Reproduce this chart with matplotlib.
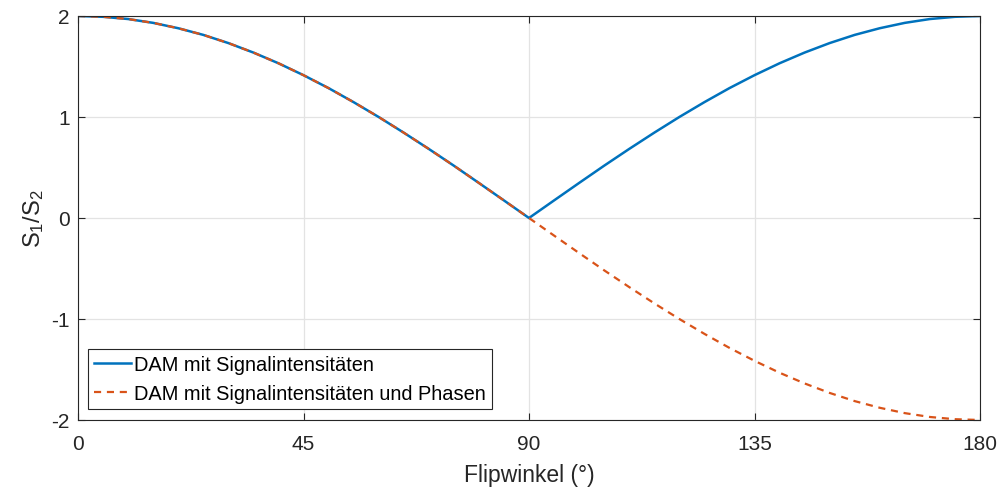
import matplotlib
matplotlib.use("Agg")
import matplotlib.pyplot as plt

plt.rcParams['font.family'] = ['Liberation Sans', 'DejaVu Sans']
plt.rcParams['mathtext.fontset'] = 'custom'
plt.rcParams['mathtext.rm'] = 'Liberation Sans'
plt.rcParams['mathtext.default'] = 'regular'

# Flip angle samples (degrees) and the ratio S1/S2 read at each
flip_angle = [0, 5, 10, 15, 20, 25, 30, 35, 40, 45, 50, 55, 60, 65, 70, 75, 80, 85, 90,
              95, 100, 105, 110, 115, 120, 125, 130, 135, 140, 145, 150, 155, 160, 165,
              170, 175, 180]
ratio_phase = [2.000, 1.992, 1.970, 1.932, 1.879, 1.813, 1.732, 1.638, 1.532, 1.414,
               1.286, 1.147, 1.000, 0.845, 0.684, 0.518, 0.347, 0.174, 0.000,
               -0.174, -0.347, -0.518, -0.684, -0.845, -1.000, -1.147, -1.286, -1.414,
               -1.532, -1.638, -1.732, -1.813, -1.879, -1.932, -1.970, -1.992, -2.000]
ratio_magnitude = [2.000, 1.992, 1.970, 1.932, 1.879, 1.813, 1.732, 1.638, 1.532, 1.414,
                   1.286, 1.147, 1.000, 0.845, 0.684, 0.518, 0.347, 0.174, 0.000,
                   0.174, 0.347, 0.518, 0.684, 0.845, 1.000, 1.147, 1.286, 1.414,
                   1.532, 1.638, 1.732, 1.813, 1.879, 1.932, 1.970, 1.992, 2.000]

x_ticks = [0, 45, 90, 135, 180]
y_ticks = [-2, -1, 0, 1, 2]
labels = ["DAM mit Signalintensitäten", "DAM mit Signalintensitäten und Phasen"]

fig = plt.figure(figsize=(10.03, 4.89), dpi=100)
ax = fig.add_axes([78 / 1003, 1 - 421 / 489, (980 - 78) / 1003, (421 - 17) / 489])

ax.plot(flip_angle, ratio_magnitude, color='#0072BD', lw=1.8, label=labels[0])
ax.plot(flip_angle, ratio_phase, color='#D95319', lw=1.6, ls=(0, (3.2, 2.6)), label=labels[1])

ax.set_xlim(0, 180)
ax.set_ylim(-2, 2)
ax.set_xticks(x_ticks)
ax.set_yticks(y_ticks)
ax.set_yticklabels([str(v) for v in y_ticks])
ax.grid(True, color='#e3e3e3', lw=0.9)
ax.set_axisbelow(True)
ax.tick_params(direction='in', length=5, width=0.8, colors='#262626', labelsize=15,
               top=True, right=True)
ax.tick_params(axis='x', pad=10)
ax.tick_params(axis='y', pad=6)
for s in ax.spines.values():
    s.set_color('#262626')
    s.set_linewidth(0.8)

ax.set_xlabel('Flipwinkel (°)', fontsize=16.5, color='#262626', labelpad=7)
ax.set_ylabel(r'S$_1$/S$_2$', fontsize=17, color='#262626', labelpad=4)

leg = ax.legend(loc='lower left', bbox_to_anchor=(10 / 902, 11 / 404), fontsize=14.4,
                frameon=True, fancybox=False, edgecolor='#262626', framealpha=1,
                handlelength=1.85, handletextpad=0.15, borderpad=0.3, labelspacing=0.5,
                borderaxespad=0)
leg.get_frame().set_linewidth(0.8)

fig.savefig('out.png', dpi=100)
